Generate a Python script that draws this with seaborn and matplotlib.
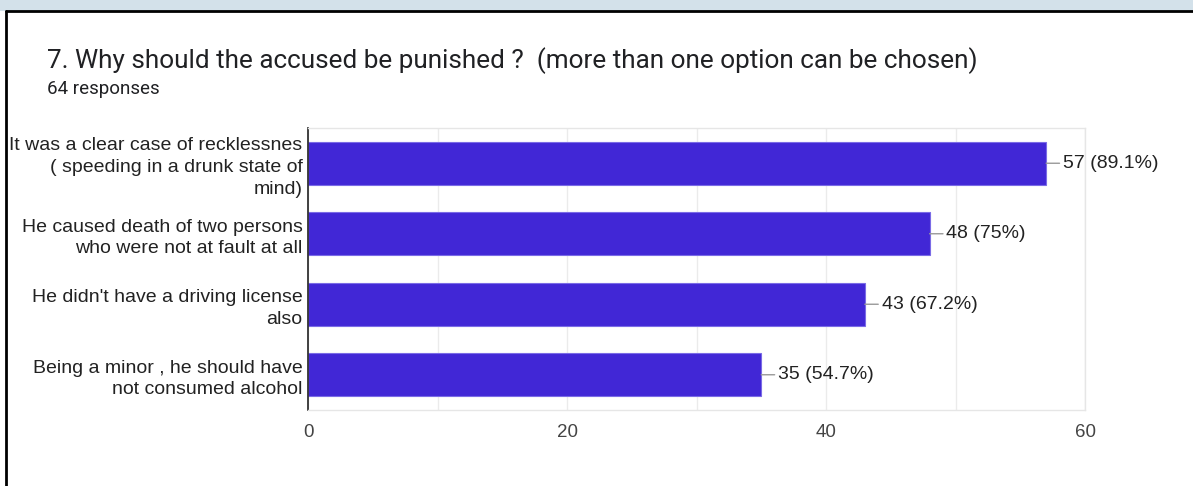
"""Horizontal bar chart of survey responses (Google Forms style)."""

import matplotlib
matplotlib.use("Agg")
import matplotlib.pyplot as plt
from matplotlib.patches import Rectangle
from matplotlib.lines import Line2D
import seaborn as sns

# data
options = [
    "It was a clear case of recklessnes\n( speeding in a drunk state of\nmind)",
    "He caused death of two persons\nwho were not at fault at all",
    "He didn't have a driving license\nalso",
    "Being a minor , he should have\nnot consumed alcohol",
]
counts = [57, 48, 43, 35]
percents = ["89.1%", "75%", "67.2%", "54.7%"]
x_ticks = [0, 20, 40, 60]

title = "7. Why should the accused be punished ?  (more than one option can be chosen)"
subtitle = "64 responses"

W, H = 1193, 486
bar_color = "#4127d6"

sns.set_theme(style="white")
plt.rcParams["font.family"] = ["Liberation Sans", "DejaVu Sans"]

fig = plt.figure(figsize=(W / 100, H / 100), dpi=100)
fig.patch.set_facecolor("white")

# light band at the very top (screenshot background) and the black card border
fig.patches.append(Rectangle((0, 1 - 11 / H), 1, 11 / H, transform=fig.transFigure,
                             facecolor="#d3e1ea", edgecolor="none", zorder=0))
fig.lines.append(Line2D([6 / W, 1], [1 - 11 / H, 1 - 11 / H], transform=fig.transFigure,
                        color="black", lw=2))
fig.lines.append(Line2D([6 / W, 6 / W], [0, 1 - 11 / H], transform=fig.transFigure,
                        color="black", lw=2))

fig.text(47 / W, 1 - 68 / H, title, fontsize=18.8, color="#202124",
         family=["Roboto", "DejaVu Sans"], ha="left", va="baseline")
fig.text(47 / W, 1 - 94 / H, subtitle, fontsize=13.5, color="#202124",
         family=["Roboto", "DejaVu Sans"], ha="left", va="baseline")

ax = fig.add_axes([308 / W, 1 - 410 / H, (1085 - 308) / W, (410 - 128) / H])
sns.barplot(x=counts, y=options, orient="h", color=bar_color, width=0.61,
            saturation=1, edgecolor="#7a6be6", linewidth=0.8, ax=ax)

ax.set_xlim(0, 60)
ax.set_xticks(x_ticks)
ax.set_xticks(range(0, 61, 10), minor=True)
ax.grid(axis="x", which="both", color="#ebebeb", lw=1)
ax.set_axisbelow(True)
ax.tick_params(axis="x", which="both", length=0, labelsize=13.5, labelcolor="#444444", pad=10)
ax.tick_params(axis="y", length=0, labelsize=14, labelcolor="#222222", pad=4)
for lbl in ax.get_yticklabels():
    lbl.set_linespacing(1.35)
ax.set_xlabel("")
ax.set_ylabel("")

for side in ["top", "right", "bottom"]:
    ax.spines[side].set_color("#e6e6e6")
    ax.spines[side].set_linewidth(1)
ax.spines["left"].set_color("#333333")
ax.spines["left"].set_linewidth(1.3)

for i, (c, p) in enumerate(zip(counts, percents)):
    ax.annotate(f"{c} ({p})", xy=(c, i), xytext=(12, 0), textcoords="offset points",
                va="center", ha="left", fontsize=14, color="#222222",
                arrowprops=dict(arrowstyle="-", color="#999999", lw=1,
                                shrinkA=0, shrinkB=0))

fig.savefig("out.png", dpi=100)
